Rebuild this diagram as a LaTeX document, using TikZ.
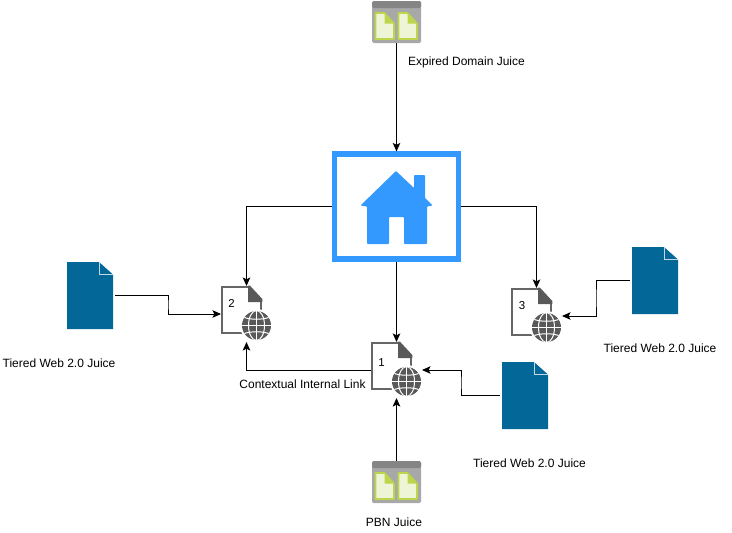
\documentclass[tikz,border=0pt]{standalone}
\usepackage{fontspec}
\setmainfont{Liberation Sans}
\usetikzlibrary{arrows.meta,calc}
\definecolor{homeblue}{HTML}{3399FF}
\definecolor{pageblue}{HTML}{036897}
\definecolor{docgray}{HTML}{666666}
\definecolor{globegray}{HTML}{595959}
\definecolor{sitegray}{HTML}{A8A8A8}
\definecolor{sitedark}{HTML}{858585}
\definecolor{leafline}{HTML}{BCD64B}
\definecolor{leaffill}{HTML}{EEF5D6}
\tikzset{
  x=1pt,y=-1pt,
  box/.style={rectangle,inner sep=0pt,outer sep=0pt,minimum width=#1},
  link/.style={draw=black,line width=1pt,-{Stealth[length=8.5pt,width=7.5pt,inset=1.8pt]}},
  lbl/.style={font=\fontsize{12}{14}\selectfont,inner sep=0pt,text=black},
  num/.style={font=\fontsize{11.5}{14}\selectfont,inner sep=0pt,text=black},
}
% x,y = top-left corner of the icon
\newcommand{\siteicon}[2]{%
  \begin{scope}[shift={(#1,#2)}]
    \fill[sitegray,rounded corners=1.5pt] (0,0) rectangle (49,42);
    \fill[sitedark,rounded corners=1.5pt] (0,0) rectangle (49,7);
    \foreach \dx in {3.5,26.5}{
      \filldraw[fill=leaffill,draw=leafline,line width=1.6pt,line join=round]
        (\dx,12) -- (\dx+9,12) -- (\dx+18.5,22.5) -- (\dx+18.5,38) -- (\dx,38) -- cycle;
      \fill[leafline] (\dx+9,12) -- (\dx+18.5,22.5) -- (\dx+9,22.5) -- cycle;
    }
  \end{scope}}
\newcommand{\webdoc}[2]{%
  \begin{scope}[shift={(#1,#2)}]
    \draw[docgray,line width=2.6pt,miter limit=10] (39,14) -- (39,46) -- (0,46) -- (0,0) -- (27,0);
    \fill[globegray] (26,-1.3) -- (28,-1.3) -- (40.3,12) -- (40.3,15) -- (26,15) -- cycle;
    \fill[white] (34.5,38.5) circle[radius=16.5];
    \fill[globegray] (34.5,38.5) circle[radius=14.5];
    \begin{scope}
      \clip (34.5,38.5) circle[radius=14.5];
      \draw[white,line width=1pt] (34.5,23) -- (34.5,54);
      \draw[white,line width=1pt] (34.5,38.5) ellipse[x radius=8,y radius=15];
      \draw[white,line width=1pt] (19,38.5) -- (50,38.5);
      \draw[white,line width=1pt] (21,30) .. controls (28,33) and (41,33) .. (48,30);
      \draw[white,line width=1pt] (21,47) .. controls (28,44) and (41,44) .. (48,47);
    \end{scope}
  \end{scope}}
\newcommand{\bluedoc}[2]{%
  \begin{scope}[shift={(#1,#2)}]
    \fill[pageblue] (0,0) -- (32,0) -- (46,12.5) -- (46,67) -- (0,67) -- cycle;
    \draw[white!75!pageblue,line width=0.9pt] (32.5,0) -- (32.5,12) -- (46,12);
    \fill[white] (33.2,0) -- (46.2,0) -- (46.2,11.4) -- cycle;
  \end{scope}}
\begin{document}
\begin{tikzpicture}
\useasboundingbox (0,0) rectangle (732,533);

% icons
\siteicon{372}{1}
\siteicon{372}{461}
\webdoc{222}{287}
\webdoc{372}{343}
\webdoc{512}{289}
\bluedoc{67}{262}
\bluedoc{632}{247}
\bluedoc{502}{362}

% home
\node[box=124pt,minimum height=104.5pt,draw=homeblue,line width=5.6pt,fill=white,outer sep=2.8pt] (home) at (396.5,206.5) {};
\fill[homeblue,rounded corners=0.8pt]
  (396,171) -- (414,188) -- (414,175) -- (425,175) -- (425,198) -- (432.5,205.5) -- (427,206.5)
  -- (427,244) -- (404,244) -- (404,217) -- (389,217) -- (389,244) -- (367,244) -- (367,206.5) -- (360.5,205.5) -- cycle;

% anchor boxes of the icons
\node[box=49pt,minimum height=42pt] (exp) at (396.5,22) {};
\node[box=49pt,minimum height=42pt] (pbn) at (396.5,482) {};
\node[box=49pt,minimum height=54pt,outer sep=1pt] (d2) at (246.5,314) {};
\node[box=49pt,minimum height=54pt,outer sep=1pt] (d1) at (396.5,370) {};
\node[box=49pt,minimum height=54pt,outer sep=1pt] (d3) at (536.5,316) {};
\node[box=46pt,minimum height=67pt,outer sep=2pt] (b2) at (90,295.5) {};
\node[box=46pt,minimum height=67pt,outer sep=2pt] (b3) at (655,280.5) {};
\node[box=46pt,minimum height=67pt,outer sep=2pt] (b1) at (525,395.5) {};

% connectors
\draw[link] (exp.south) -- (home.north);
\draw[link] (home.west) -| (d2.north);
\draw[link] (home.east) -| (d3.north);
\draw[link] (home.south) -- (d1.north);
\draw[link] (pbn.north) -- (d1.south);
\draw[link] (d1.west) -| (d2.south);
\draw[link] (b2.east) -| ($(b2.east)!.5!(d2.west)$) |- (d2.west);
\draw[link] (b3.west) -| ($(b3.west)!.5!(d3.east)$) |- (d3.east);
\draw[link] (b1.west) -| ($(b1.west)!.5!(d1.east)$) |- (d1.east);

% labels
\node[lbl,anchor=base] (t1) at (466.5,65) {Expired Domain Juice};
\node[lbl,anchor=base] (t2) at (59,367) {Tiered Web 2.0 Juice};
\node[lbl,anchor=base] (t3) at (660,352) {Tiered Web 2.0 Juice};
\node[lbl,anchor=base] (t4) at (529.5,467) {Tiered Web 2.0 Juice};
\node[lbl,anchor=base] (t5) at (394,526) {PBN Juice};
\node[lbl,anchor=base] (t6) at (302.5,388) {Contextual Internal Link};
\node[num,anchor=base] (n2) at (231.5,307) {2};
\node[num,anchor=base] (n1) at (381.5,366) {1};
\node[num,anchor=base] (n3) at (522,309) {3};
\end{tikzpicture}
\end{document}
